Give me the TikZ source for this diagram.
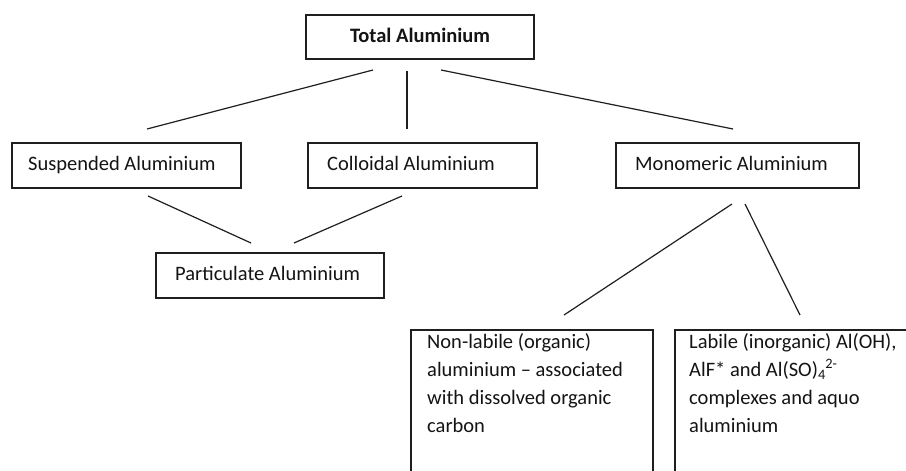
\documentclass[tikz,border=0pt]{standalone}
\usepackage{fontspec}
\setmainfont{Carlito}
\begin{document}
\begin{tikzpicture}[x=1pt,y=-1pt,
  box/.style={draw=black!88, line width=1.2pt, rectangle, inner sep=0pt},
  link/.style={draw=black!88, line width=1.2pt},
  lbl/.style={anchor=base west, inner sep=0pt, text=black!92,
    font=\fontsize{20.5}{28}\selectfont}]
\useasboundingbox (0,0) rectangle (906,471);
\clip (0,0) rectangle (906,471);
\fill[white] (0,0) rectangle (906,471);

% boxes
\node[box, minimum width=228pt, minimum height=44pt] (total) at (420,37) {};
\node[box, minimum width=229pt, minimum height=45pt] (susp) at (126.5,165.5) {};
\node[box, minimum width=229pt, minimum height=45pt] (coll) at (422.5,165.5) {};
\node[box, minimum width=243pt, minimum height=45pt] (mono) at (737.5,165.5) {};
\node[box, minimum width=228pt, minimum height=45pt] (part) at (270,275.5) {};
\node[box, minimum width=242pt, minimum height=170pt] (nonl) at (532,415) {};
\node[box, minimum width=244pt, minimum height=170pt] (labl) at (797,415) {};

% texts
\node[lbl, anchor=base, font=\bfseries\fontsize{20.5}{28}\selectfont] (totalt) at (420,42) {Total Aluminium};
\node[lbl] (suspt) at (28,170) {Suspended Aluminium};
\node[lbl] (collt) at (327,170) {Colloidal Aluminium};
\node[lbl] (monot) at (635,170) {Monomeric Aluminium};
\node[lbl] (partt) at (175,280) {Particulate Aluminium};
\node[lbl] (nonlt) at (427,348) {\parbox[t]{230pt}{\raggedright
  Non-labile (organic)\\aluminium – associated\\with dissolved organic\\carbon}};
\node[lbl] (lablt) at (689,348) {\parbox[t]{230pt}{\raggedright
  Labile (inorganic) Al(OH),\\AlF* and Al(SO)\textsubscript{4}\kern-0.5pt\textsuperscript{2-}\\complexes and aquo\\aluminium}};

% connector end points
\coordinate (t1) at (373,70);
\coordinate (t2) at (407,71);
\coordinate (t3) at (441,70);
\coordinate (s0) at (147,129);
\coordinate (c0) at (407,129);
\coordinate (m0) at (733,129);
\coordinate (s1) at (148,196);
\coordinate (c1) at (402,196);
\coordinate (p1) at (251,243);
\coordinate (p2) at (294,243);
\coordinate (m1) at (732,204);
\coordinate (m2) at (745,204);
\coordinate (n0) at (564,315);
\coordinate (l0) at (800,315);

\draw[link] (t1) -- (s0);
\draw[link] (t2) -- (c0);
\draw[link] (t3) -- (m0);
\draw[link] (s1) -- (p1);
\draw[link] (c1) -- (p2);
\draw[link] (m1) -- (n0);
\draw[link] (m2) -- (l0);
\end{tikzpicture}
\end{document}
